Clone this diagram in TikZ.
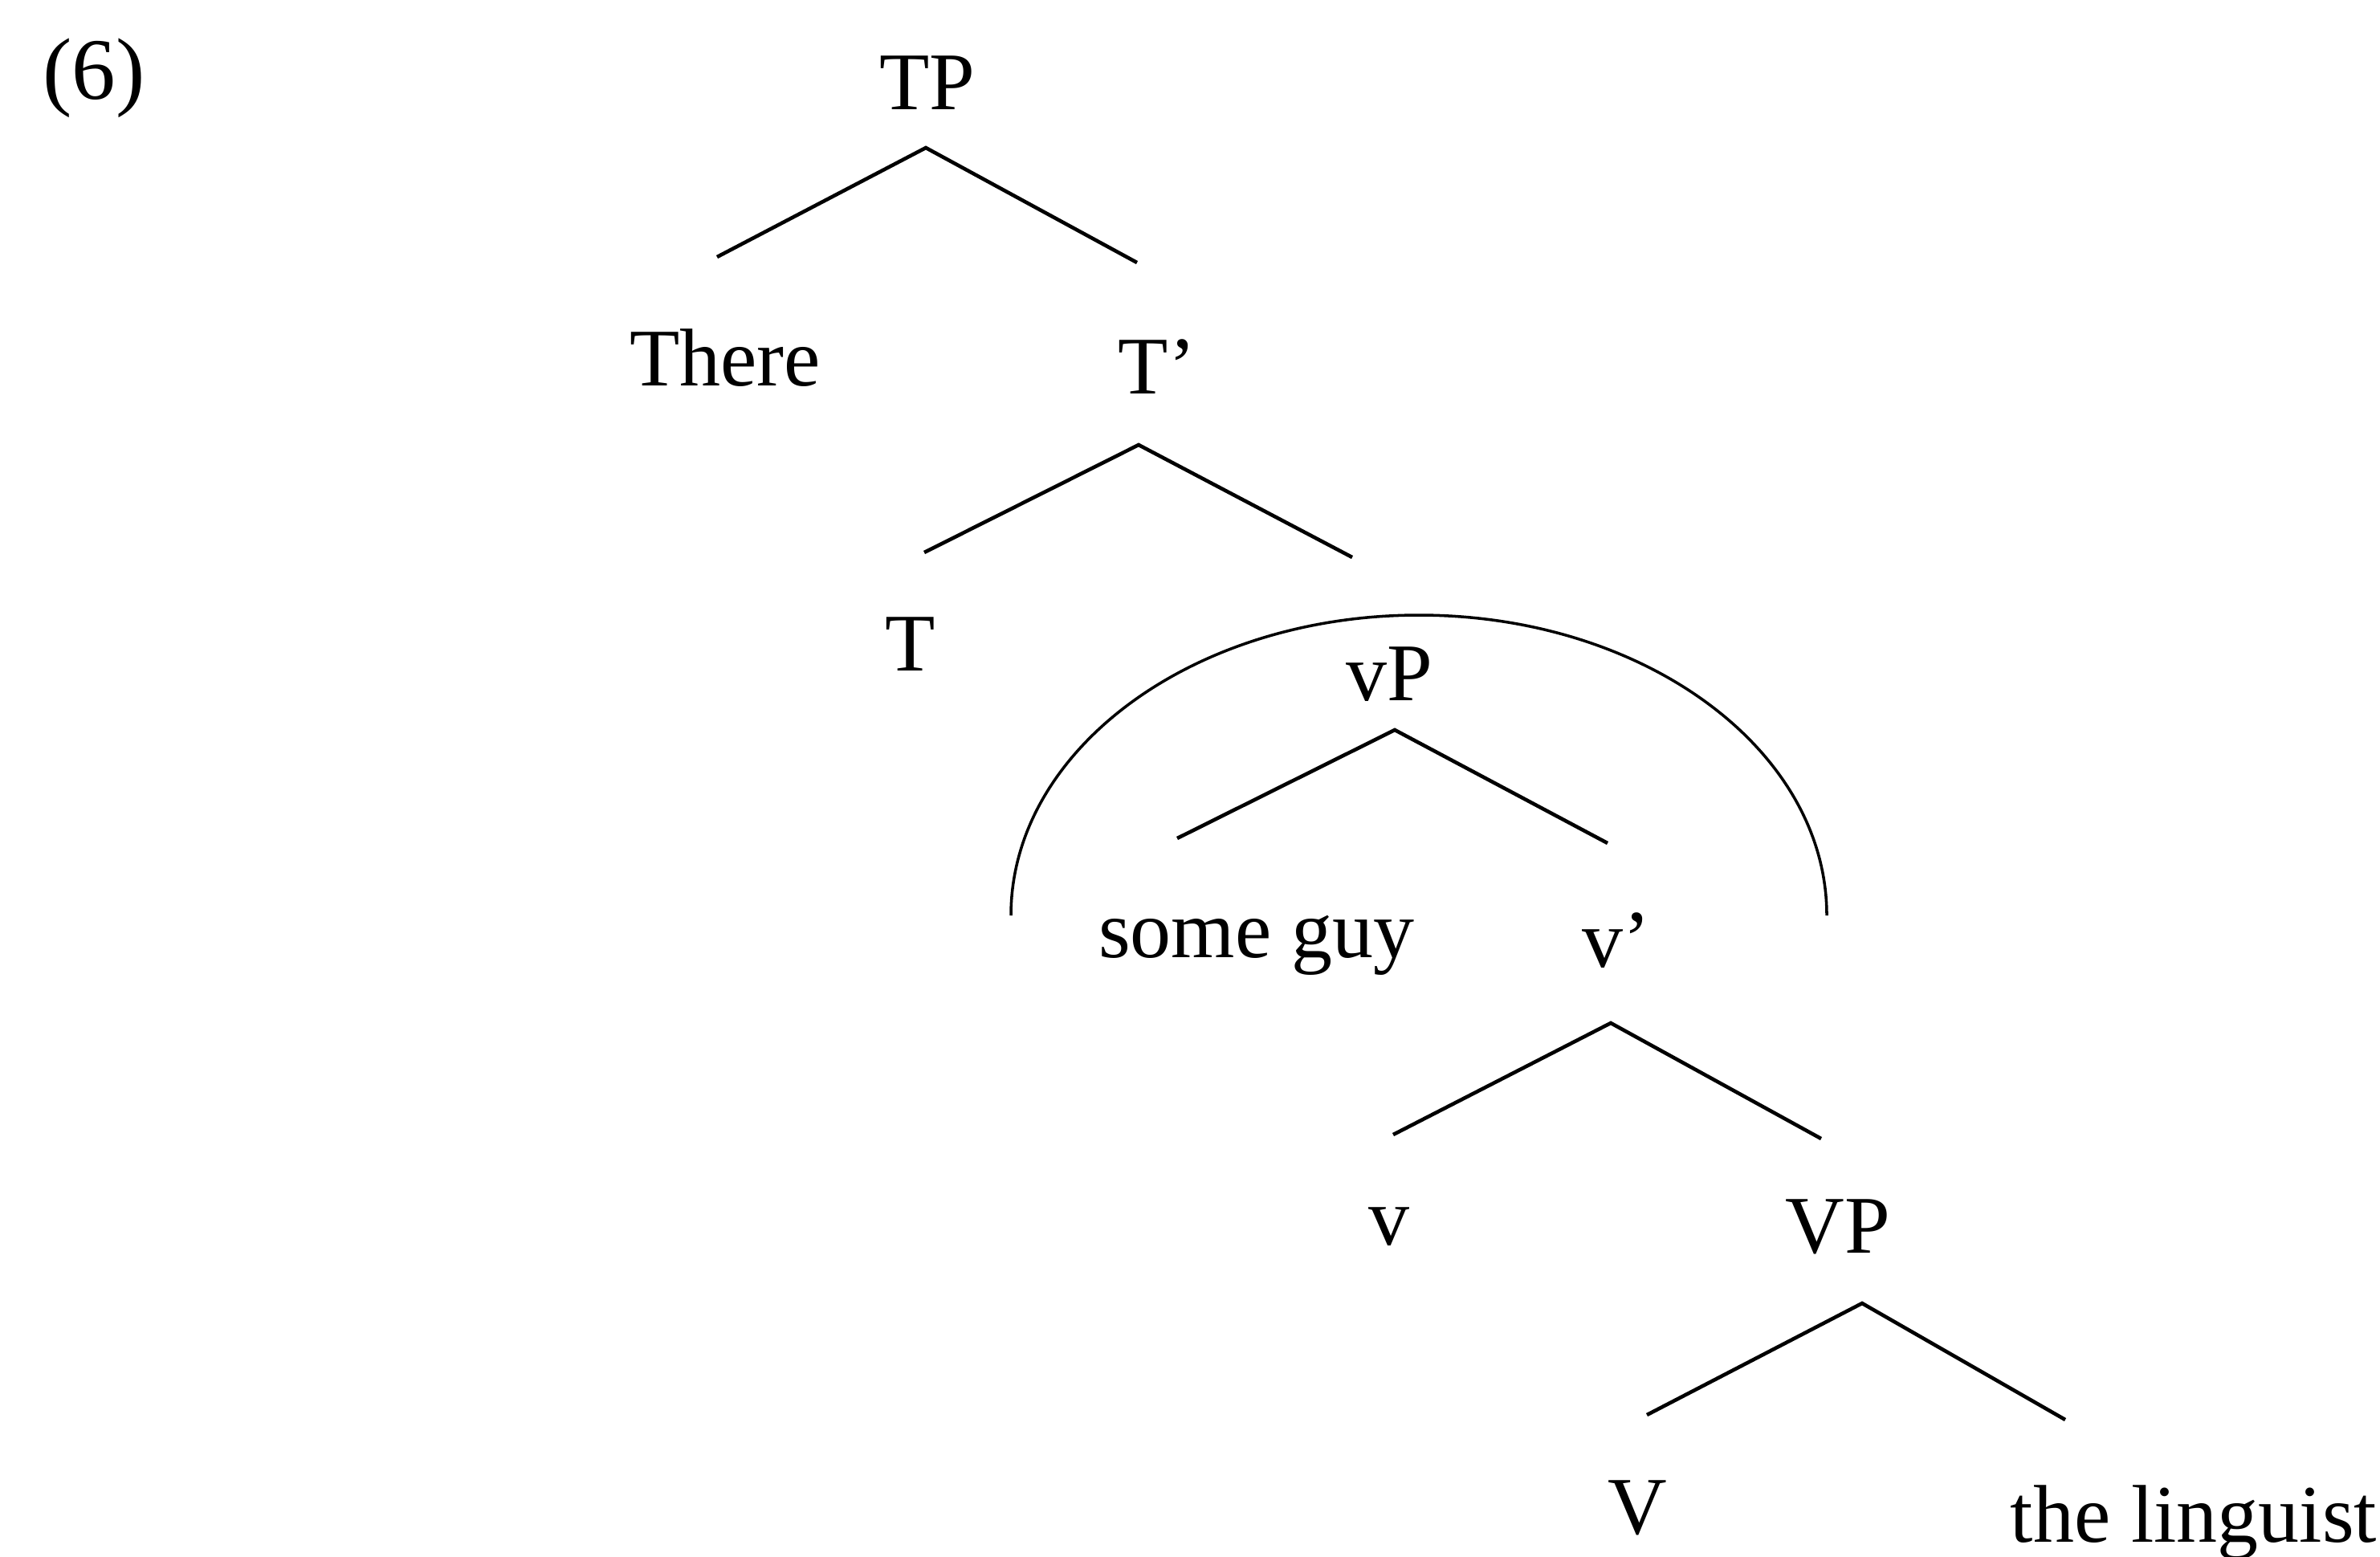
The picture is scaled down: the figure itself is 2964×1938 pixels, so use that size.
\documentclass[tikz,border=0pt]{standalone}
\usepackage{fontspec}
\setmainfont{Liberation Serif}

\begin{document}
\begin{tikzpicture}[x=0.01cm, y=-0.01cm,
    every node/.style={anchor=base, inner sep=0pt, font=\fontsize{29}{34}\selectfont},
    branch/.style={line width=1.3pt}]
        \useasboundingbox (0,0) rectangle (2964,1938);
        \node[font=\fontsize{31}{36}\selectfont] (ex) at (117,123) {(6)};
        % labels
        \node (tp) at (1155,136) {TP};
        \node (there) at (903,480) {There};
        \node (tbar) at (1441,490) {T’};
        \node (t) at (1134,835) {T};
        \node (vp) at (1730,872) {vP};
        \node (guy) at (1565,1192) {some guy};
        \node (vbar) at (2013,1204) {v’};
        \node (v) at (1730,1550) {v};
        \node (bigvp) at (2289,1560) {VP};
        \node (bigv) at (2039,1910) {V};
        \node (ling) at (2732,1920) {the linguist};
        % branch points
        \coordinate (tp-a) at (1153,184);
        \coordinate (tp-l) at (893,320);
        \coordinate (tp-r) at (1416,327);
        \coordinate (tbar-a) at (1418,554);
        \coordinate (tbar-l) at (1151,688);
        \coordinate (tbar-r) at (1684,694);
        \coordinate (vp-a) at (1737,909);
        \coordinate (vp-l) at (1466,1044);
        \coordinate (vp-r) at (2002,1050);
        \coordinate (vbar-a) at (2006,1274);
        \coordinate (vbar-l) at (1735,1413);
        \coordinate (vbar-r) at (2268,1418);
        \coordinate (bigvp-a) at (2319,1623);
        \coordinate (bigvp-l) at (2051,1762);
        \coordinate (bigvp-r) at (2572,1768);
        \draw[branch] (tp-l) -- (tp-a) -- (tp-r);
        \draw[branch] (tbar-l) -- (tbar-a) -- (tbar-r);
        \draw[branch] (vp-l) -- (vp-a) -- (vp-r);
        \draw[branch] (vbar-l) -- (vbar-a) -- (vbar-r);
        \draw[branch] (bigvp-l) -- (bigvp-a) -- (bigvp-r);
        % arc over vP
        \coordinate (arc-l) at (1259,1140);
        \draw[line width=1pt] (arc-l) arc[start angle=180, end angle=0, x radius=508, y radius=-374];
\end{tikzpicture}
\end{document}
